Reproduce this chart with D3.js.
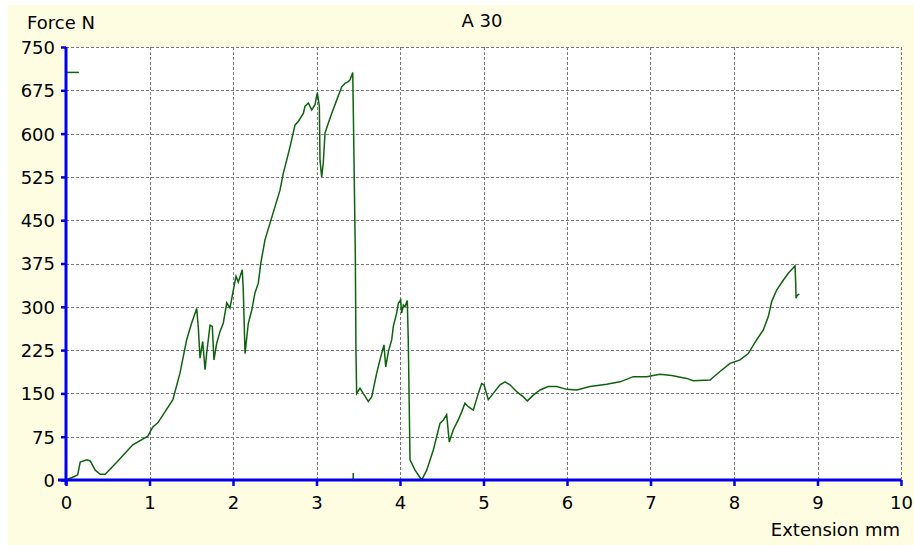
<!DOCTYPE html>
<html>
<head>
<meta charset="utf-8">
<script src="https://cdn.jsdelivr.net/npm/d3@7"></script>
<style>
  body { margin: 0; background: #fff; }
  text { font-family: "DejaVu Sans", sans-serif; font-size: 18px; fill: #000; }
</style>
</head>
<body>
<script>
// curve: extension (mm) and force (N)
var extension = [0, 0.05, 0.10, 0.14, 0.17, 0.25, 0.29, 0.35, 0.41, 0.47, 0.61, 0.80, 0.98, 1.04, 1.10, 1.28,
  1.365, 1.445, 1.505, 1.565, 1.584, 1.605, 1.637, 1.665, 1.685, 1.725, 1.752, 1.772, 1.805, 1.844, 1.884,
  1.925, 1.964, 2.004, 2.036, 2.063, 2.084, 2.111, 2.123, 2.144, 2.183, 2.224, 2.263, 2.303, 2.332, 2.383,
  2.563, 2.602, 2.643, 2.683, 2.743, 2.782, 2.842, 2.862, 2.902, 2.943, 2.982, 3.010, 3.034, 3.042, 3.062,
  3.081, 3.102, 3.141, 3.182, 3.242, 3.302, 3.341, 3.381, 3.401, 3.434, 3.441, 3.465, 3.473, 3.481, 3.521,
  3.560, 3.620, 3.661, 3.721, 3.760, 3.808, 3.829, 3.860, 3.901, 3.920, 3.960, 3.980, 4.008, 4.020, 4.040,
  4.060, 4.087, 4.099, 4.120, 4.180, 4.260, 4.320, 4.399, 4.479, 4.519, 4.559, 4.590, 4.638, 4.698, 4.739,
  4.778, 4.818, 4.878, 4.938, 4.978, 5.006, 5.057, 5.117, 5.198, 5.257, 5.317, 5.398, 5.477, 5.525, 5.596,
  5.677, 5.776, 5.877, 5.996, 6.116, 6.275, 6.475, 6.635, 6.794, 6.954, 7.114, 7.254, 7.433, 7.513, 7.713,
  7.832, 7.952, 8.072, 8.171, 8.272, 8.351, 8.411, 8.451, 8.511, 8.590, 8.650, 8.731, 8.739, 8.743, 8.758,
  8.782];
var force = [0, 3, 6, 9, 31, 35, 33, 17, 10, 10, 31, 61, 76, 92, 99, 139,
  185, 243, 272, 297, 266, 211, 240, 191, 220, 268, 266, 208, 237, 257, 272,
  307, 298, 329, 353, 343, 352, 364, 329, 219, 271, 294, 324, 341, 375, 416,
  502, 531, 554, 577, 615, 621, 635, 647, 653, 641, 650, 671, 647, 554, 525,
  549, 601, 618, 635, 658, 681, 687, 690, 693, 706, 638, 390, 220, 150, 159,
  150, 136, 144, 185, 208, 234, 196, 222, 243, 266, 289, 306, 312, 289, 303,
  300, 311, 243, 35, 17, 0, 17, 52, 98, 104, 113, 66, 87, 104, 118,
  133, 127, 121, 150, 167, 165, 139, 150, 165, 170, 165, 153, 144, 137, 147,
  156, 162, 162, 157, 156, 162, 166, 170, 179, 179, 183, 181, 176, 172, 173,
  188, 202, 208, 219, 243, 260, 283, 309, 329, 346, 358, 371, 341, 315, 320,
  322];

var xTicks = [0, 1, 2, 3, 4, 5, 6, 7, 8, 9, 10];
var yTicks = [0, 75, 150, 225, 300, 375, 450, 525, 600, 675, 750];
var peakForce = 706;      // max-force marker on the y axis
var peakExtension = 3.44; // break marker on the x axis

var width = 914, height = 545;

var x = d3.scaleLinear().domain([0, 10]).range([66, 901]);
var y = d3.scaleLinear().domain([0, 750]).range([480, 47]);

var svg = d3.select('body').append('svg')
  .attr('width', width)
  .attr('height', height);

// yellow panel and white plot area
svg.append('rect')
  .attr('x', 8).attr('y', 5)
  .attr('width', width - 8).attr('height', height - 5)
  .attr('fill', '#fefde2');

svg.append('rect')
  .attr('x', x(0)).attr('y', y(750))
  .attr('width', x(10) - x(0)).attr('height', y(0) - y(750))
  .attr('fill', '#fff');

// dashed grid
var grid = svg.append('g')
  .attr('stroke', '#7a7a7a')
  .attr('stroke-width', 1)
  .attr('stroke-dasharray', '3,2')
  .attr('shape-rendering', 'crispEdges');

grid.selectAll('.vg')
  .data(xTicks.slice(1))
  .enter().append('line')
  .attr('x1', function (d) { return Math.round(x(d)) + 0.5; })
  .attr('x2', function (d) { return Math.round(x(d)) + 0.5; })
  .attr('y1', y(750)).attr('y2', y(0));

grid.selectAll('.hg')
  .data(yTicks.slice(1))
  .enter().append('line')
  .attr('y1', function (d) { return Math.round(y(d)) + 0.5; })
  .attr('y2', function (d) { return Math.round(y(d)) + 0.5; })
  .attr('x1', x(0)).attr('x2', x(10));

// the curve
var pts = extension.map(function (e, i) { return [e, force[i]]; });

svg.append('path')
  .datum(pts)
  .attr('fill', 'none')
  .attr('stroke', '#0f620f')
  .attr('stroke-width', 1.5)
  .attr('d', d3.line()
    .x(function (d) { return x(d[0]); })
    .y(function (d) { return y(d[1]); }));

// small markers
svg.append('line')
  .attr('x1', x(0)).attr('x2', x(0.155))
  .attr('y1', y(peakForce)).attr('y2', y(peakForce))
  .attr('stroke', '#0f620f').attr('stroke-width', 1.5);

svg.append('line')
  .attr('x1', x(peakExtension)).attr('x2', x(peakExtension))
  .attr('y1', y(0)).attr('y2', y(12))
  .attr('stroke', '#0f620f').attr('stroke-width', 1.5);

// axes
var xAxis = d3.axisBottom(x).tickValues(xTicks).tickSize(6).tickPadding(7)
  .tickFormat(d3.format('d'));
var yAxis = d3.axisLeft(y).tickValues(yTicks).tickSize(5).tickPadding(6)
  .tickFormat(d3.format('d'));

var gx = svg.append('g')
  .attr('transform', 'translate(0,' + y(0) + ')')
  .call(xAxis);
var gy = svg.append('g')
  .attr('transform', 'translate(' + x(0) + ',0)')
  .call(yAxis);

[gx, gy].forEach(function (g) {
  g.select('.domain').remove();
  g.selectAll('.tick line').attr('stroke', '#0000ee').attr('stroke-width', 2.5);
  g.selectAll('.tick text')
    .attr('font-family', '"DejaVu Sans", sans-serif')
    .attr('font-size', 18)
    .attr('fill', '#000');
});
gx.selectAll('.tick text').attr('dy', '0.9em');
gy.selectAll('.tick text').attr('dy', '0.36em');

svg.append('line')
  .attr('x1', x(0) - 8).attr('x2', x(10))
  .attr('y1', y(0)).attr('y2', y(0))
  .attr('stroke', '#0000ee').attr('stroke-width', 3);
svg.append('line')
  .attr('x1', x(0)).attr('x2', x(0))
  .attr('y1', y(0) + 5).attr('y2', y(750))
  .attr('stroke', '#0000ee').attr('stroke-width', 3);

// titles
svg.append('text').attr('x', 27).attr('y', 29).text('Force N');
svg.append('text').attr('x', 482).attr('y', 27).attr('text-anchor', 'middle').text('A 30');
svg.append('text').attr('x', 900).attr('y', 536).attr('text-anchor', 'end').text('Extension mm');
</script>
</body>
</html>
